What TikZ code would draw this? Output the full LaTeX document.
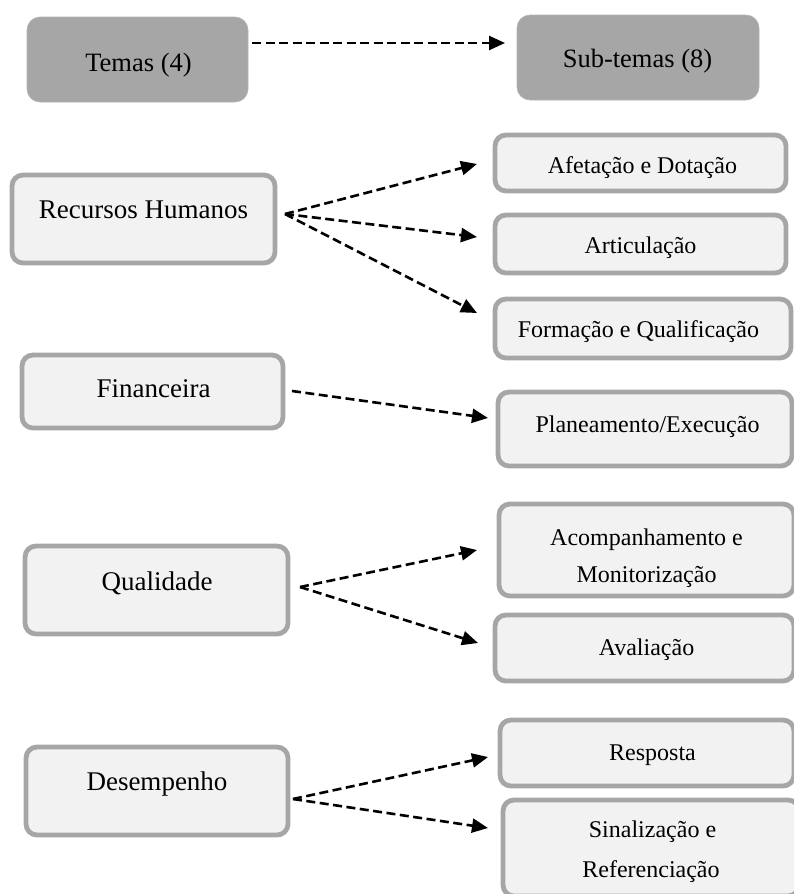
\documentclass[tikz,border=0pt]{standalone}
\usepackage{fontspec}
\setmainfont{Liberation Serif}
\usetikzlibrary{arrows.meta}
\definecolor{boxline}{HTML}{A6A6A6}
\definecolor{boxfill}{HTML}{F2F2F2}
\definecolor{headfill}{HTML}{A6A6A6}
\begin{document}
\begin{tikzpicture}[x=1pt,y=-1pt,
  headbox/.style={rectangle, rounded corners=13pt, fill=headfill, draw=headfill!85!white, line width=0.6pt, inner sep=0pt},
  subbox/.style={rectangle, rounded corners=11pt, fill=boxfill, draw=boxline, line width=4.8pt, inner sep=0pt},
  lbl/.style={anchor=base, inner sep=0pt, font=\fontsize{26.5}{33}\selectfont},
  themelbl/.style={lbl, font=\fontsize{27}{33}\selectfont},
  sublbl/.style={lbl, font=\fontsize{24}{30}\selectfont},
  link/.style={draw=black, line width=2.6pt, dash pattern=on 9pt off 4.5pt, -{Triangle[length=16pt,width=14pt]}}
]
\useasboundingbox (0,0) rectangle (794,894);

% header boxes
\node[headbox, minimum width=221pt, minimum height=85pt] (temas) at (137.5,59.5) {};
\node[headbox, minimum width=242pt, minimum height=85pt] (sub) at (638,57.5) {};
\node[lbl] (temasT) at (138.5,71) {Temas (4)};
\node[lbl] (subT) at (637.5,67) {Sub-temas (8)};

% themes
\node[subbox, minimum width=263pt, minimum height=88pt] (rh) at (143.5,219) {};
\node[subbox, minimum width=261pt, minimum height=73pt] (fi) at (152.5,391.5) {};
\node[subbox, minimum width=263pt, minimum height=88pt] (ql) at (156.5,590) {};
\node[subbox, minimum width=262pt, minimum height=88pt] (de) at (157,791) {};
\node[themelbl] (rhT) at (143.5,218) {Recursos Humanos};
\node[themelbl] (fiT) at (153.5,397) {Financeira};
\node[themelbl] (qlT) at (157,590) {Qualidade};
\node[themelbl] (deT) at (157,790) {Desempenho};

% sub-themes
\node[subbox, minimum width=291pt, minimum height=56pt] (af) at (640.5,163) {};
\node[subbox, minimum width=291pt, minimum height=58pt] (ar) at (640.5,244) {};
\node[subbox, minimum width=296pt, minimum height=59pt] (fq) at (643,328.5) {};
\node[subbox, minimum width=294pt, minimum height=74pt] (pl) at (645,429) {};
\node[subbox, minimum width=295pt, minimum height=92pt] (ac) at (646.5,550) {};
\node[subbox, minimum width=299pt, minimum height=66pt] (av) at (644.5,648) {};
\node[subbox, minimum width=294pt, minimum height=66pt] (re) at (647,753) {};
\node[subbox, minimum width=296pt, minimum height=96pt] (si) at (651,848) {};
\node[sublbl] (afT) at (642.5,173) {Afetação e Dotação};
\node[sublbl] (arT) at (640.5,253) {Articulação};
\node[sublbl] (fqT) at (638.5,337) {Formação e Qualificação};
\node[sublbl] (plT) at (647.5,432) {Planeamento/Execução};
\node[sublbl] (acT1) at (646.5,545) {Acompanhamento e};
\node[sublbl] (acT2) at (646.5,582) {Monitorização};
\node[sublbl] (avT) at (646.5,655) {Avaliação};
\node[sublbl] (reT) at (652.5,760) {Resposta};
\node[sublbl] (siT1) at (652.5,837) {Sinalização e};
\node[sublbl] (siT2) at (651,877) {Referenciação};

% connector end points
\coordinate (hS) at (252,43);
\coordinate (hE) at (505,43);
\coordinate (rhS) at (285,214);
\coordinate (afE) at (477,164);
\coordinate (arE) at (477,237);
\coordinate (fqE) at (477,313);
\coordinate (fiS) at (292,391);
\coordinate (plE) at (488,418);
\coordinate (qlS) at (300,587);
\coordinate (acE) at (477,550);
\coordinate (avE) at (478,643);
\coordinate (deS) at (293,799);
\coordinate (reE) at (488,757);
\coordinate (siE) at (488,828);

% connectors
\draw[link] (hS) -- (hE);
\draw[link] (rhS) -- (afE);
\draw[link] (rhS) -- (arE);
\draw[link] (rhS) -- (fqE);
\draw[link] (fiS) -- (plE);
\draw[link] (qlS) -- (acE);
\draw[link] (qlS) -- (avE);
\draw[link] (deS) -- (reE);
\draw[link] (deS) -- (siE);
\end{tikzpicture}
\end{document}
